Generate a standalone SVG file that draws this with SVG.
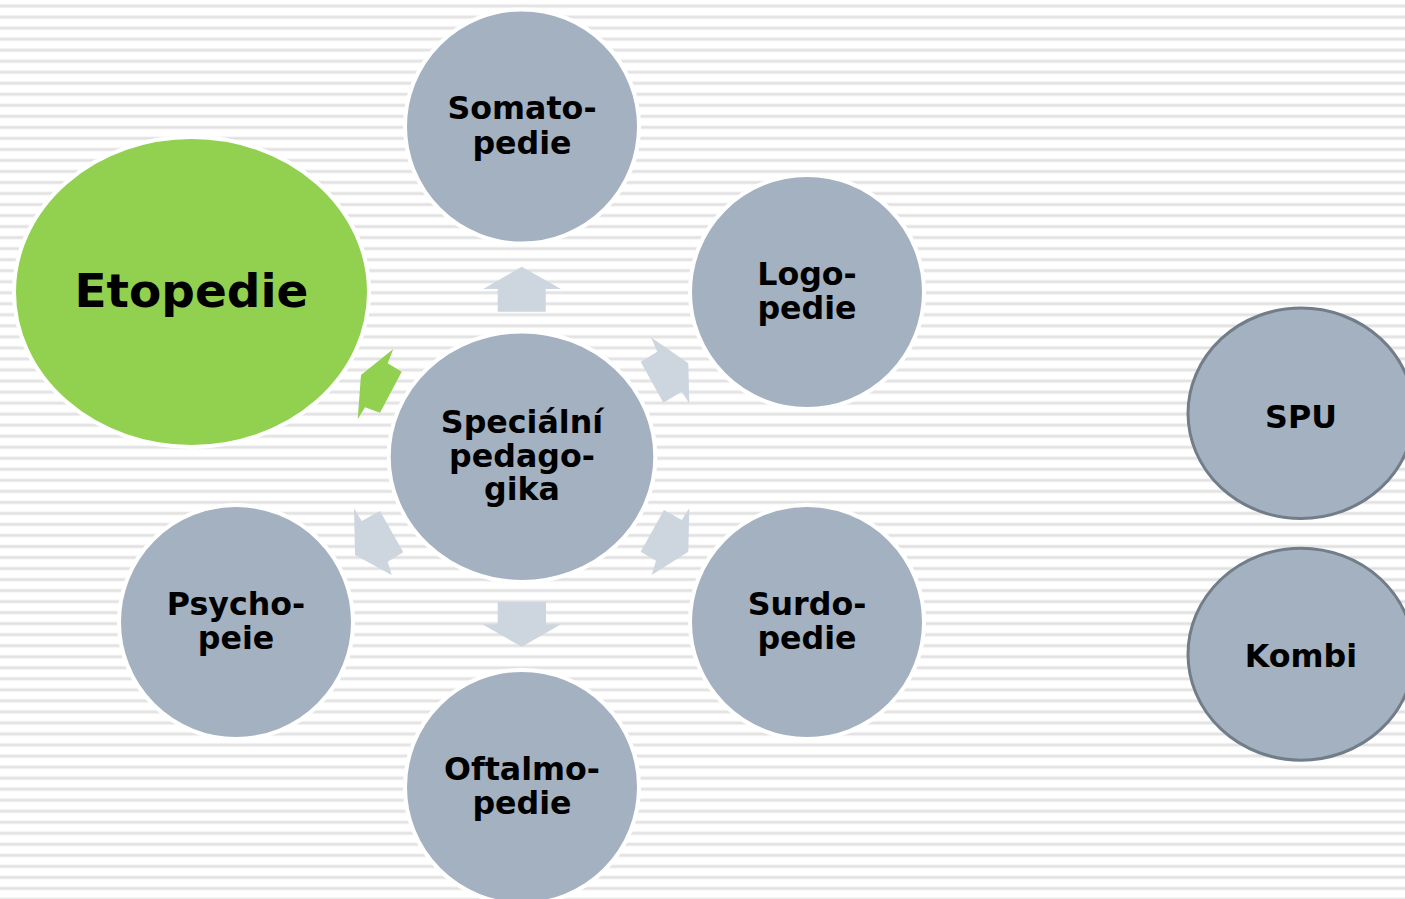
<svg xmlns="http://www.w3.org/2000/svg" width="1405" height="899" viewBox="0 0 1405 899">
  <defs>
    <pattern id="stripes" patternUnits="userSpaceOnUse" x="0" y="0" width="20" height="11.03">
      <rect x="0" y="4" width="20" height="4" fill="#f3f3f3"/>
      <rect x="0" y="5" width="20" height="2" fill="#e0e0e0"/>
    </pattern>
  </defs>
  <style>
    .node { fill: #a3b1c0; stroke: #ffffff; stroke-width: 4; }
    .green { fill: #92d050; stroke: #ffffff; stroke-width: 4; }
    .side { fill: #a3b1c0; stroke: #717d89; stroke-width: 3; }
    .arrow { fill: #cdd5de; }
    .arrow-g { fill: #92d050; }
    text { font-family: "DejaVu Sans", Verdana, sans-serif; font-weight: bold; fill: #000000; text-anchor: middle; font-size: 31.7px; }
    .big { font-size: 47px; }
  </style>
  <rect width="1405" height="899" fill="#ffffff"/>
  <rect width="1405" height="899" fill="url(#stripes)"/>

  <g id="connectors">
    <polygon class="arrow" points="521.7,266.7 561,289 545.7,289 545.7,311.7 497.7,311.7 497.7,289 483.3,289"/>
    <polygon class="arrow" points="651,337.3 657.3,351.7 640.7,361.7 663.3,402.7 681.7,391.7 689.3,403.3 688.3,363.3"/>
    <polygon class="arrow" points="689.3,508.3 681.7,520 664,510 640.7,551.7 656,560.7 651.7,575 688.3,551.7"/>
    <polygon class="arrow" points="497.7,601.7 546,601.7 546,624.3 561,624.3 521.7,646.7 482.3,624.3 497.7,624.3"/>
    <polygon class="arrow" points="354,508.3 361.7,521 380,511 403.3,552.3 387.7,561.7 391.7,575 355,555"/>
    <polygon class="arrow-g" points="393.3,349 387.7,363.3 401.7,371.7 380,412.7 365,407.3 357.7,419.3 361,375"/>
  </g>

  <g id="node-etopedie">
    <ellipse class="green" cx="191.5" cy="292" rx="177.5" ry="155"/>
    <text class="big" x="191.5" y="307.3">Etopedie</text>
  </g>

  <g id="node-somatopedie">
    <circle class="node" cx="522" cy="126.5" r="117"/>
    <text x="522" y="119.3">Somato-</text>
    <text x="522" y="153.5">pedie</text>
  </g>

  <g id="node-logopedie">
    <circle class="node" cx="807" cy="292" r="117"/>
    <text x="807" y="285">Logo-</text>
    <text x="807" y="319">pedie</text>
  </g>

  <g id="node-center">
    <ellipse class="node" cx="522" cy="456.7" rx="133.3" ry="125.3"/>
    <text x="522" y="432.7">Speciální</text>
    <text x="522" y="466.5">pedago-</text>
    <text x="522" y="500.3">gika</text>
  </g>

  <g id="node-psychopeie">
    <circle class="node" cx="236" cy="622" r="117"/>
    <text x="236" y="615">Psycho-</text>
    <text x="236" y="649">peie</text>
  </g>

  <g id="node-surdopedie">
    <circle class="node" cx="807" cy="622" r="117"/>
    <text x="807" y="615">Surdo-</text>
    <text x="807" y="649">pedie</text>
  </g>

  <g id="node-oftalmopedie">
    <circle class="node" cx="522" cy="787" r="117"/>
    <text x="522" y="780">Oftalmo-</text>
    <text x="522" y="814">pedie</text>
  </g>

  <g id="node-spu">
    <ellipse class="side" cx="1301" cy="413.3" rx="113" ry="105.2"/>
    <text x="1301" y="428.3">SPU</text>
  </g>

  <g id="node-kombi">
    <ellipse class="side" cx="1301" cy="654.2" rx="113" ry="106"/>
    <text x="1301" y="666.7">Kombi</text>
  </g>
</svg>
